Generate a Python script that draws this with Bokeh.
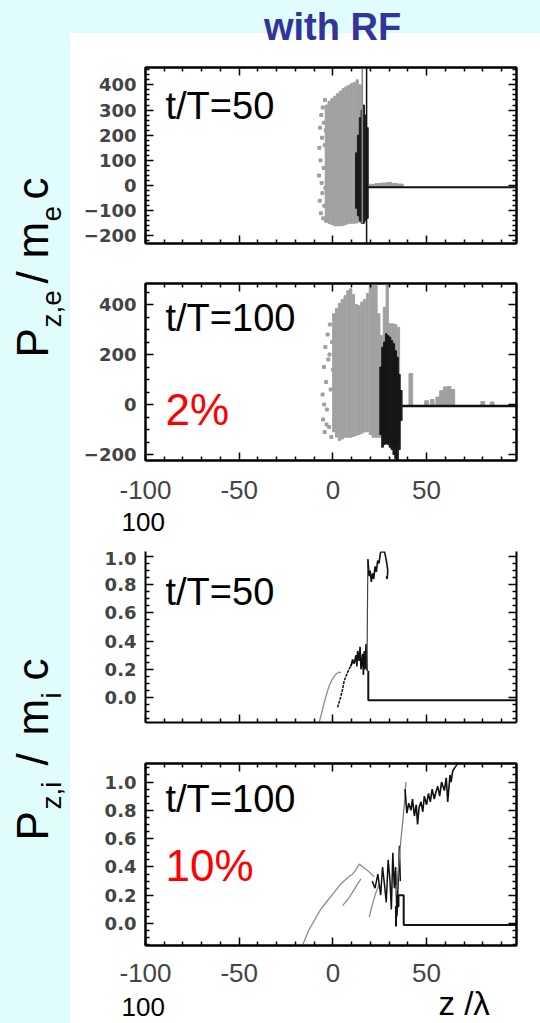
import math
from bokeh.plotting import figure
from bokeh.models import Range1d, LinearAxis, FixedTicker, Label
from bokeh.layouts import column, row
from bokeh.embed import file_html
from bokeh.resources import INLINE

# ---------------- data ----------------
x_ticks = [-100, -50, 0, 50, 100]
x_tick_labels = ["-100", "-50", "0", "50", ""]
x_wrap_label = "100"
x_minor = [-90, -80, -70, -60, -40, -30, -20, -10, 10, 20, 30, 40, 60, 70, 80, 90]

pe50_ticks = [-200, -100, 0, 100, 200, 300, 400]
pe50_labels = ["\u2212200", "\u2212100", "0", "100", "200", "300", "400"]
pe100_ticks = [-200, 0, 200, 400]
pe100_labels = ["\u2212200", "0", "200", "400"]
pi_ticks = [0.0, 0.2, 0.4, 0.6, 0.8, 1.0]
pi_labels = ["0.0", "0.2", "0.4", "0.6", "0.8", "1.0"]

# electrons, t/T = 50
e50_gray_z = [-3.5, -2.0, -0.5, 1.0, 2.5, 4.0, 5.5, 7.0, 8.5, 10.0, 11.5, 13.0, 14.5]
e50_gray_lo = [-140, -150, -155, -160, -160, -160, -158, -155, -150, -150, -150, -148, -145]
e50_gray_hi = [320, 335, 345, 355, 365, 375, 385, 392, 398, 405, 410, 420, 400]
e50_black_z = [12.5, 13.5, 14.5, 15.5, 16.5, 17.5, 18.5]
e50_black_lo = [-90, -120, -140, -150, -150, -140, -130]
e50_black_hi = [130, 200, 270, 300, 320, 280, 230]
e50_spike_z = [15.7, 18.0]
e50_spike_lo = [-150, -232]
e50_spike_hi = [472, 472]
e50_dot_z = [-7.4, -7.2, -7.0, -6.8, -6.6, -6.4, -6.2, -6.0, -5.8, -5.6,
             -5.4, -5.2, -5.0, -4.8, -4.6, -4.4, -4.2, -4.0, -3.8, -3.6]
e50_dot_p = [40, 150, -60, 230, 100, -110, 280, 10, 190, -30,
             310, -130, 70, 250, -80, 160, 340, -10, 220, -140]
e50_base_z = [18.0, 98.0]
e50_base_p = [-7, -7]
e50_blip_z = [21, 24, 27, 30, 33, 36]
e50_blip_hi = [5, 8, 10, 12, 8, 6]

# electrons, t/T = 100
e100_gray_z = [0.5, 2.0, 3.5, 5.0, 6.5, 8.0, 9.5, 11.0, 12.5, 14.0, 15.5, 17.0,
               18.5, 20.0, 21.5, 23.0, 24.5, 26.0, 27.5, 29.0, 30.5, 32.0, 33.5, 35.0]
e100_gray_hi = [363, 385, 405, 420, 435, 455, 463, 440, 400, 395, 410, 420,
                444, 484, 484, 484, 363, 276, 389, 484, 323, 323, 320, 309]
e100_gray_lo = [-109, -130, -144, -138, -131, -131, -131, -128, -124, -120, -115, -110,
                -109, -120, -131, -131, -131, -131, -131, -131, -150, -171, -171, -150]
e100_black_z = [25.5, 26.5, 27.5, 28.5, 29.5, 30.5, 31.5, 32.5, 33.5, 34.5, 35.5, 36.5]
e100_black_hi = [150, 229, 250, 283, 275, 269, 255, 243, 215, 189, 120, 56]
e100_black_lo = [-120, -171, -160, -157, -160, -171, -180, -200, -217, -224, -180, -64]
e100_dot_z = [-5.5, -5.2, -4.8, -4.4, -4.0, -3.6, -3.2, -2.8, -2.4, -2.0, -1.6, -1.2,
              -0.8, -0.4, 0.0, -4.6, -3.4, -1.8]
e100_dot_p = [40, -60, 150, -110, 230, 90, -20, 280, 180, -90, 320, 60,
              -130, 250, 140, 0, -80, 200]
e100_base_z = [37.0, 98.0]
e100_base_p = [-6, -6]
e100_blip_z = [41.6, 50, 53, 56, 58, 60, 62, 64, 80, 85]
e100_blip_hi = [124, 15, 20, 30, 55, 70, 72, 60, 12, 10]

# ions, t/T = 50
i50_gray_z = [-7.3, -6.0, -4.6, -3.0, -1.9, -0.5, 0.7, 2.0, 3.4, 4.3]
i50_gray_p = [-0.175, -0.11, -0.035, 0.04, 0.085, 0.125, 0.15, 0.17, 0.18, 0.175]
i50_branch_z = [2.5, 3.4, 4.3, 5.2, 6.1, 7.0, 7.9, 9.0, 10.5]
i50_branch_p = [-0.07, -0.03, 0.01, 0.06, 0.12, 0.15, 0.18, 0.21, 0.25]
i50_cluster_z = [9.6, 10.5, 11.4, 12.3, 12.8, 13.2, 14.0, 14.5, 15.0, 15.9, 16.3, 16.8, 17.2, 17.7, 18.2]
i50_cluster_p = [0.22, 0.27, 0.24, 0.30, 0.22, 0.33, 0.26, 0.36, 0.20, 0.31, 0.16, 0.33, 0.20, 0.38, 0.19]
i50_spike_z = [18.2, 18.4, 18.6, 18.7]
i50_spike_p = [0.19, 0.55, 0.85, 0.98]
i50_top_z = [18.7, 19.3, 19.9, 20.5, 21.2, 21.8, 22.5, 23.2, 23.9, 24.6, 25.3, 26.0,
             26.7, 27.4, 28.1, 28.8, 29.3, 29.0, 28.5]
i50_top_p = [0.98, 0.86, 0.90, 0.82, 0.88, 0.84, 0.93, 0.89, 0.97, 0.95, 1.02, 1.04,
             1.03, 1.04, 1.00, 0.95, 0.90, 0.84, 0.86]
i50_step_z = [18.9, 18.9, 98.0]
i50_step_p = [0.19, -0.02, -0.02]

# ions, t/T = 100
i100_gray_z = [-16.2, -13.0, -10.0, -6.5, -2.8, 0.7, 4.3, 7.5, 10.5, 12.3, 14.1, 16.0, 18.5, 22.1]
i100_gray_p = [-0.155, -0.05, 0.02, 0.10, 0.163, 0.22, 0.28, 0.32, 0.35, 0.38, 0.42, 0.40, 0.375, 0.33]
i100_br1_z = [5.2, 7.9, 10.5, 13.2, 15.0]
i100_br1_p = [0.127, 0.17, 0.22, 0.28, 0.316]
i100_br2_z = [19.4, 21.2, 23.0, 24.8]
i100_br2_p = [0.045, 0.139, 0.22, 0.28]
i100_cluster_z = [21.0, 22.5, 24.0, 25.5, 26.5, 27.5, 28.5, 29.5, 30.5, 31.2, 32.0, 32.8,
                  33.5, 34.2, 35.0, 35.5, 36.0]
i100_cluster_p = [0.30, 0.25, 0.35, 0.20, 0.40, 0.28, 0.15, 0.45, 0.30, 0.10, 0.50, 0.25,
                  0.40, 0.05, 0.35, 0.55, 0.30]
i100_spike_z = [33.7, 34.5, 36.0, 37.5, 38.5, 39.0]
i100_spike_p = [0.20, 0.30, 0.55, 0.75, 0.90, 1.00]
i100_step_z = [33.7, 33.7, 35.0, 35.0, 37.8, 37.8, 98.0]
i100_step_p = [-0.02, 0.12, 0.12, 0.20, 0.20, -0.01, -0.01]
i100_top_z = [38.5, 39.5, 40.5, 41.7, 42.5, 43.5, 44.5, 45.2, 46.0, 47.0, 48.0, 48.8, 50.0,
              51.0, 52.0, 53.0, 54.1, 55.0, 56.0, 57.0, 58.0, 59.5, 60.5, 61.3, 62.5, 63.1,
              64.0, 65.0, 66.6]
i100_top_p = [0.95, 0.78, 0.85, 0.80, 0.88, 0.76, 0.84, 0.70, 0.82, 0.86, 0.79, 0.90, 0.84,
              0.92, 0.86, 0.95, 0.88, 0.93, 0.97, 0.90, 1.00, 0.94, 1.03, 0.86, 1.05, 1.00,
              1.08, 1.10, 1.13]

# ---------------- layout constants ----------------
PAGE_W, PAGE_H = 540, 1023
LEFT_W = 72              # left strips holding the rotated axis titles
TOP_H = 50               # top strip holding the title
PANEL_W = PAGE_W - LEFT_W
FR_L, FR_R = 145, 516    # frame edges in page pixels
X_RANGE = (-100, 98)
CYAN = "#e0fcfc"
GRAY = "#a0a0a0"
BLACK = "#111111"
SANS = "Liberation Sans"
ROT = math.pi / 2
BASE_K = 0.39            # measured offset between anchor and drawn baseline (em)
SIDE_BG = f"linear-gradient(to right, {CYAN} 70px, #ffffff 70px)"


def px2data(spec, px, py):
    (ftop, fbot, yr) = spec
    x = X_RANGE[0] + (px - FR_L) / (FR_R - FR_L) * (X_RANGE[1] - X_RANGE[0])
    y = yr[1] - (py - ftop) / (fbot - ftop) * (yr[1] - yr[0])
    return x, y


def label(p, x, y, text, size, color="black", bold=False, angle=0.0,
          align="left", font=SANS):
    p.add_layout(Label(x=x, y=y, text=text, text_font=font, text_font_size=f"{size}px",
                       text_color=color, text_font_style="bold" if bold else "normal",
                       angle=angle, text_align=align, text_baseline="alphabetic"))


def page_text(p, px, py, text, size, angle=0.0, **kw):
    """p uses page pixels as data (y downward); (px, py) is where the baseline should be."""
    if angle:
        label(p, px - BASE_K * size, py, text, size, angle=angle, **kw)
    else:
        label(p, px, py - BASE_K * size, text, size, **kw)


def add_text(p, spec, text, px, py, size, **kw):
    x, y = px2data(spec, px, py - BASE_K * size)
    label(p, x, y, text, size, **kw)


def make_axis(ticks, minor, labels=None, font="DejaVu Sans", size="18px", bold=True, standoff=9):
    ax = LinearAxis(ticker=FixedTicker(ticks=ticks, minor_ticks=minor))
    ax.major_tick_in = 8
    ax.major_tick_out = 0
    ax.minor_tick_in = 4
    ax.minor_tick_out = 0
    ax.axis_line_width = 2
    ax.major_tick_line_width = 1.5
    ax.minor_tick_line_width = 1.5
    if labels is not None:
        ax.major_label_overrides = dict(zip(ticks, labels))
        ax.major_label_text_font = font
        ax.major_label_text_font_size = size
        ax.major_label_text_font_style = "bold" if bold else "normal"
        ax.major_label_standoff = standoff
    else:
        ax.major_label_text_color = None
        ax.major_label_text_font_size = "8px"
        ax.major_label_standoff = 0
    return ax


def plain_fig(width, height, x0, x1, ytop, ybot, bg):
    """Frame-only figure whose data units are page pixels (y grows downward)."""
    p = figure(width=width, height=height, x_range=Range1d(x0, x1), y_range=Range1d(ybot, ytop),
               output_backend="svg", toolbar_location=None, title=None,
               x_axis_location=None, y_axis_location=None,
               min_border=0, min_border_left=0, min_border_right=0,
               min_border_top=0, min_border_bottom=0)
    p.grid.visible = False
    p.border_fill_color = None
    p.background_fill_color = None
    p.outline_line_color = None
    p.styles = {"background": bg}
    return p


def make_fig(fig_top, fig_h, fr_top, fr_bot, yr, yticks, yminor, ylabels,
             xlabels=False, top_axis=True, x_standoff=20):
    p = figure(width=PANEL_W, height=fig_h, x_range=Range1d(*X_RANGE), y_range=Range1d(*yr),
               output_backend="svg", toolbar_location=None, title=None,
               x_axis_location=None, y_axis_location=None,
               min_border_left=FR_L - LEFT_W, min_border_right=PAGE_W - FR_R,
               min_border_top=fr_top - fig_top, min_border_bottom=fig_top + fig_h - fr_bot)
    p.grid.visible = False
    p.border_fill_color = "white"
    p.background_fill_color = "white"
    p.outline_line_color = "black" if top_axis else None
    p.outline_line_width = 2
    p.add_layout(make_axis(yticks, yminor, ylabels), "left")
    p.add_layout(make_axis(yticks, yminor, None), "right")
    if xlabels:
        p.add_layout(make_axis(x_ticks, x_minor, x_tick_labels, font=SANS, size="26px",
                               bold=False, standoff=x_standoff), "below")
    else:
        p.add_layout(make_axis(x_ticks, x_minor, None), "below")
    if top_axis:
        p.add_layout(make_axis(x_ticks, x_minor, None), "above")
    return p, (fr_top, fr_bot, yr)


def minor_range(lo, hi, step, majors):
    out = []
    v = lo
    while v <= hi + 1e-9:
        if all(abs(v - m) > 1e-6 for m in majors):
            out.append(round(v, 4))
        v += step
    return out


# vertical bands (page pixels)
Y_A, H_A = TOP_H, 212
Y_B, H_B = Y_A + H_A, 243
Y_SB, H_SB = Y_B + H_B, 46
Y_C, H_C = Y_SB + H_SB, 194
Y_D, H_D = Y_C + H_C, 241
Y_SD = Y_D + H_D
H_SD = PAGE_H - Y_SD

# ---------------- title strip ----------------
pT = plain_fig(PAGE_W, TOP_H, 0, PAGE_W, 0, TOP_H,
               f"linear-gradient({CYAN}, {CYAN}) top left / 100% 33px no-repeat, " + SIDE_BG)
page_text(pT, 332, 41, "with RF", 38, color="#333399", bold=True, align="center")

# ---------------- left strips with rotated axis titles ----------------
pL1 = plain_fig(LEFT_W, H_A + H_B, 0, LEFT_W, Y_A, Y_SB, SIDE_BG)
for txt, bx, sy, sz in [("P", 49, 357, 44), ("z,e", 62, 327, 28), ("/", 49, 283, 44),
                        ("m", 49, 258, 44), ("e", 62, 221, 28), ("c", 49, 199, 44)]:
    page_text(pL1, bx, sy, txt, sz, angle=ROT)

pL2 = plain_fig(LEFT_W, H_C + H_D, 0, LEFT_W, Y_C, Y_SD, SIDE_BG)
for txt, bx, sy, sz in [("P", 49, 840, 44), ("z,i", 62, 809, 28), ("/", 49, 765, 44),
                        ("m", 49, 735, 44), ("i", 62, 698, 28), ("c", 49, 680, 44)]:
    page_text(pL2, bx, sy, txt, sz, angle=ROT)

# ---------------- panel A : electrons t/T=50 ----------------
yrA = (-230, 469)
pA, sA = make_fig(Y_A, H_A, 67, 243, yrA, pe50_ticks, minor_range(-220, 460, 20, pe50_ticks),
                  pe50_labels)
pA.vbar(x=e50_gray_z, width=1.2, bottom=e50_gray_lo, top=e50_gray_hi, color=GRAY)
pA.scatter(e50_dot_z, e50_dot_p, marker="square", size=3, color=GRAY)
pA.vbar(x=e50_black_z, width=0.8, bottom=e50_black_lo, top=e50_black_hi, color=BLACK, alpha=0.85)
pA.segment(x0=e50_spike_z, y0=e50_spike_lo, x1=e50_spike_z, y1=e50_spike_hi,
           color=["#888888", BLACK], line_width=1.5)
pA.vbar(x=e50_blip_z, width=3, bottom=-7, top=e50_blip_hi, color=GRAY)
pA.line(e50_base_z, e50_base_p, color=BLACK, line_width=2)
add_text(pA, sA, "t/T=50", 165, 120, 38)

# ---------------- panel B : electrons t/T=100 ----------------
yrB = (-224, 484)
pB, sB = make_fig(Y_B, H_B, 283, 460, yrB, pe100_ticks, minor_range(-200, 450, 50, pe100_ticks),
                  pe100_labels, xlabels=True)
pB.vbar(x=e100_gray_z, width=1.2, bottom=e100_gray_lo, top=e100_gray_hi, color=GRAY)
pB.scatter(e100_dot_z, e100_dot_p, marker="square", size=3, color=GRAY)
pB.vbar(x=e100_black_z, width=0.9, bottom=e100_black_lo, top=e100_black_hi, color=BLACK, alpha=0.9)
pB.vbar(x=e100_blip_z, width=2, bottom=-6, top=e100_blip_hi, color=GRAY)
pB.line(e100_base_z, e100_base_p, color=BLACK, line_width=2.5)
add_text(pB, sB, "t/T=100", 165, 332, 38)
add_text(pB, sB, "2%", 165, 426, 44, color="#ff0000")

# full-width strip under panel B (wrapped tick label)
pSB = plain_fig(PAGE_W, H_SB, 0, PAGE_W, Y_SB, Y_C, SIDE_BG)
page_text(pSB, 121, 532, x_wrap_label, 26)

# ---------------- panel C : ions t/T=50 ----------------
yrC = (-0.177, 1.035)
pC, sC = make_fig(Y_C, H_C, 551, 722, yrC, pi_ticks, minor_range(-0.15, 1.05, 0.05, pi_ticks),
                  pi_labels, top_axis=False)
pC.line(i50_gray_z, i50_gray_p, color="#8c8c8c", line_width=1.3)
pC.line(i50_branch_z, i50_branch_p, color=BLACK, line_width=1.5, line_dash="3 1")
pC.line(i50_cluster_z, i50_cluster_p, color=BLACK, line_width=1.6)
pC.line(i50_spike_z, i50_spike_p, color="#444444", line_width=1.2)
pC.line(i50_top_z, i50_top_p, color=BLACK, line_width=1.6)
pC.line(i50_step_z, i50_step_p, color=BLACK, line_width=2)
add_text(pC, sC, "t/T=50", 165, 606, 38)

# ---------------- panel D : ions t/T=100 ----------------
yrD = (-0.155, 1.131)
pD, sD = make_fig(Y_D, H_D, 763, 945, yrD, pi_ticks, minor_range(-0.15, 1.15, 0.05, pi_ticks),
                  pi_labels, xlabels=True, x_standoff=18)
pD.line(i100_gray_z, i100_gray_p, color="#8c8c8c", line_width=1.3)
pD.line(i100_br1_z, i100_br1_p, color="#8c8c8c", line_width=1.3)
pD.line(i100_br2_z, i100_br2_p, color="#8c8c8c", line_width=1.3)
pD.line(i100_cluster_z, i100_cluster_p, color=BLACK, line_width=1.5)
pD.line(i100_spike_z, i100_spike_p, color="#777777", line_width=1.2)
pD.line(i100_step_z, i100_step_p, color=BLACK, line_width=2)
pD.line(i100_top_z, i100_top_p, color=BLACK, line_width=1.6)
add_text(pD, sD, "t/T=100", 165, 813, 38)
add_text(pD, sD, "10%", 165, 882, 44, color="#ff0000")

# full-width strip under panel D (wrapped tick label and axis title)
pSD = plain_fig(PAGE_W, H_SD, 0, PAGE_W, Y_SD, PAGE_H, SIDE_BG)
page_text(pSD, 121, 1017, x_wrap_label, 26)
page_text(pSD, 438, 1016, "z /\u03bb", 33)

layout = column(
    pT,
    row(pL1, column(pA, pB, spacing=0), spacing=0),
    pSB,
    row(pL2, column(pC, pD, spacing=0), spacing=0),
    pSD,
    spacing=0,
)
open("out.html", "w").write(file_html(layout, INLINE))
